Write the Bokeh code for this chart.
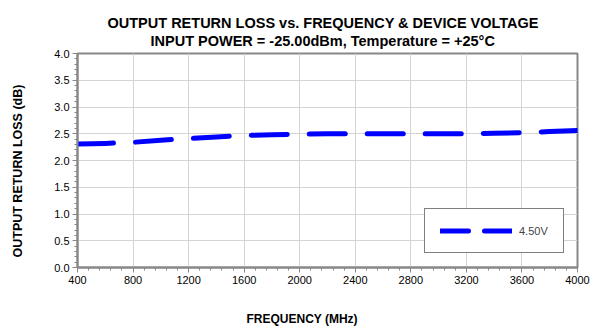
from bokeh.plotting import figure
from bokeh.models import Title, Range1d, FixedTicker, Legend, LegendItem, PrintfTickFormatter
from bokeh.embed import file_html
from bokeh.resources import INLINE

# Data
freq_mhz = [400, 600, 800, 1000, 1200, 1400, 1600, 1800, 2000, 2200, 2400,
            2600, 2800, 3000, 3200, 3400, 3600, 3800, 4000]
rl_450v = [2.31, 2.32, 2.34, 2.38, 2.41, 2.44, 2.47, 2.48, 2.49, 2.50, 2.50,
           2.50, 2.50, 2.50, 2.50, 2.51, 2.52, 2.54, 2.56]
series_name = "4.50V"
x_ticks = [400, 800, 1200, 1600, 2000, 2400, 2800, 3200, 3600, 4000]
y_ticks = [0.0, 0.5, 1.0, 1.5, 2.0, 2.5, 3.0, 3.5, 4.0]
title1 = "OUTPUT RETURN LOSS vs. FREQUENCY & DEVICE VOLTAGE"
title2 = "INPUT POWER = -25.00dBm, Temperature = +25°C"
x_label = "FREQUENCY (MHz)"
y_label = "OUTPUT RETURN LOSS (dB)"

FONT = "Liberation Sans"
GRAY = "#888888"

p = figure(width=599, height=331, output_backend="svg", toolbar_location=None,
           title=None, x_range=Range1d(400, 4000), y_range=Range1d(0, 4),
           min_border_left=77, min_border_right=22, min_border_top=53, min_border_bottom=64)
p.background_fill_color = "white"
p.border_fill_color = "white"
p.outline_line_color = GRAY
p.outline_line_width = 2

p.xgrid.grid_line_color = "#d4d4d4"
p.ygrid.grid_line_color = "#d4d4d4"

p.xaxis.ticker = FixedTicker(ticks=x_ticks, minor_ticks=list(range(400, 4001, 80)))
p.yaxis.ticker = FixedTicker(ticks=y_ticks, minor_ticks=[i / 10 for i in range(0, 41)])
p.yaxis.formatter = PrintfTickFormatter(format="%.1f")
for ax in (p.xaxis, p.yaxis):
    ax.axis_line_color = GRAY
    ax.axis_line_width = 2
    ax.major_tick_line_color = GRAY
    ax.minor_tick_line_color = GRAY
    ax.major_tick_out = 5
    ax.major_tick_in = 0
    ax.minor_tick_out = 3
    ax.minor_tick_in = 0
    ax.major_label_text_font = FONT
    ax.major_label_text_font_size = "11px"
    ax.major_label_text_color = "black"
    ax.major_label_standoff = 3
    # blank spacer label that pushes the outer titles away from the axis
    ax.axis_label = " "
    ax.axis_label_text_font_size = "1px"
p.xaxis.axis_label_standoff = 20
p.yaxis.axis_label_standoff = 12

line = p.line(freq_mhz, rl_450v, line_color="#0000ff", line_width=5,
              line_dash="36 22", line_cap="round", line_join="round")
# off-range renderer used only for the legend sample (shorter dashes)
legend_sample = p.line([-2000, -1000], [-5, -5], line_color="#0000ff", line_width=5,
                       line_dash="28 16", line_cap="round")

legend = Legend(items=[LegendItem(label=series_name, renderers=[legend_sample])],
                location=(347, 14), orientation="vertical")
legend.border_line_color = "black"
legend.border_line_width = 1
legend.background_fill_color = "white"
legend.background_fill_alpha = 1
legend.padding = 15
legend.spacing = 0
legend.margin = 0
legend.glyph_width = 72
legend.glyph_height = 13
legend.label_standoff = 7
legend.label_text_font = FONT
legend.label_text_font_size = "11px"
legend.label_height = 13
p.add_layout(legend, "center")

def mk_title(text, size, **kw):
    return Title(text=text, text_font=FONT, text_font_size=size, text_font_style="bold",
                 text_color="black", **kw)

p.add_layout(mk_title(title2, "14.5px", align="left", offset=73, standoff=5,
                      vertical_align="top"), "above")
p.add_layout(mk_title(title1, "14.5px", align="left", offset=30, standoff=0,
                      vertical_align="bottom"), "above")
p.add_layout(mk_title(x_label, "12px", align="left", offset=169, standoff=0,
                      vertical_align="middle"), "below")
p.add_layout(mk_title(y_label, "12.5px", align="left", offset=10, standoff=19,
                      vertical_align="middle"), "left")

open("out.html", "w").write(file_html(p, INLINE))
